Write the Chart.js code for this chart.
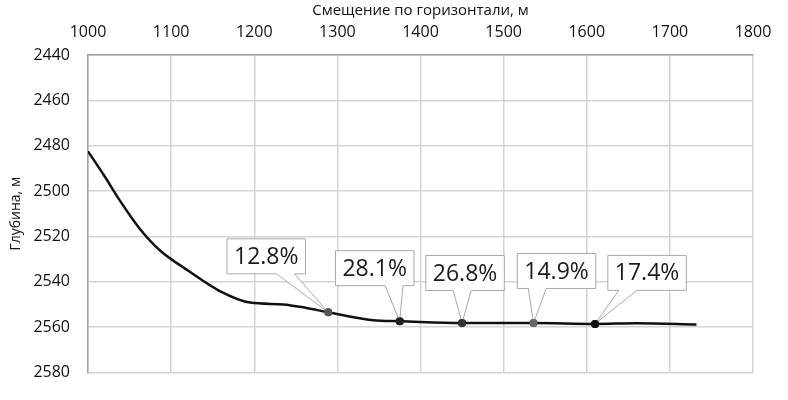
<!DOCTYPE html>
<html>
<head>
<meta charset="utf-8">
<script src="https://cdn.jsdelivr.net/npm/chart.js@4"></script>
<style>
  html, body { margin: 0; padding: 0; background: #fff; }
  #wrap { width: 788px; height: 400px; }
</style>
</head>
<body>
<div id="wrap"><canvas id="wellChart"></canvas></div>
<script>
// trajectory: horizontal offset (m) vs depth (m)
const offsetM = [1000, 1020, 1038, 1062, 1086, 1122, 1158, 1195, 1235, 1263, 1289, 1343, 1375, 1450, 1536, 1610, 1660, 1732]
const depthM = [2482.5, 2493.5, 2504, 2516.5, 2526, 2535.5, 2544, 2549.2, 2550, 2551.6, 2553.5, 2557, 2557.4, 2558.2, 2558.2, 2558.6, 2558.3, 2558.9]

// labelled points
const markerX = [1289, 1375, 1450, 1536, 1610]
const markerDepth = [2553.5, 2557.4, 2558.2, 2558.2, 2558.6]
const markerLabels = ["12.8%", "28.1%", "26.8%", "14.9%", "17.4%"]
const markerColors = ["#555", "#222", "#333", "#666", "#111"]

const xTicks = [1000, 1100, 1200, 1300, 1400, 1500, 1600, 1700, 1800]
const yTicks = [2440, 2460, 2480, 2500, 2520, 2540, 2560, 2580]

const FONT = "'Open Sans', 'DejaVu Sans', sans-serif"

// box centre offset from its point (px)
const calloutOffsets = [[-62, -56], [-25, -53], [3, -50], [23, -52], [52, -51]]

const callouts = {
    id: "callouts",
    afterDatasetsDraw(chart) {
        const ctx = chart.ctx
        const meta = chart.getDatasetMeta(1)
        ctx.save()
        ctx.font = "23px " + FONT
        meta.data.forEach((pt, i) => {
            const text = markerLabels[i]
            const w = ctx.measureText(text).width + 14
            const h = 35
            const cx = pt.x + calloutOffsets[i][0]
            const cy = pt.y + calloutOffsets[i][1]
            const left = cx - w / 2, top = cy - h / 2
            const bottom = top + h
            const baseC = Math.min(Math.max(pt.x, left + 20), left + w - 20)
            ctx.beginPath()
            ctx.moveTo(left, top)
            ctx.lineTo(left + w, top)
            ctx.lineTo(left + w, bottom)
            ctx.lineTo(baseC + 9, bottom)
            ctx.lineTo(pt.x, pt.y)
            ctx.lineTo(baseC - 9, bottom)
            ctx.lineTo(left, bottom)
            ctx.closePath()
            ctx.fillStyle = "#fff"
            ctx.fill()
            ctx.strokeStyle = "#a8a8a8"
            ctx.lineWidth = 1
            ctx.stroke()
            ctx.fillStyle = "#1a1a1a"
            ctx.textAlign = "center"
            ctx.textBaseline = "middle"
            ctx.fillText(text, cx, cy + 1)
            // redraw marker on top of the wedge tip
            ctx.beginPath()
            ctx.arc(pt.x, pt.y, 4, 0, Math.PI * 2)
            ctx.fillStyle = markerColors[i]
            ctx.fill()
        })
        ctx.restore()
    }
}

new Chart(document.getElementById("wellChart"), {
    type: "scatter",
    data: {
        datasets: [
            {
                label: "trajectory",
                data: offsetM.map((x, i) => ({x: x, y: depthM[i]})),
                showLine: true,
                borderColor: "#111",
                borderWidth: 2.5,
                pointRadius: 0,
                cubicInterpolationMode: "monotone"
            },
            {
                label: "markers",
                data: markerX.map((x, i) => ({x: x, y: markerDepth[i]})),
                showLine: false,
                pointRadius: 4,
                pointBackgroundColor: markerColors,
                pointBorderWidth: 0
            }
        ]
    },
    options: {
        responsive: true,
        maintainAspectRatio: false,
        animation: false,
        layout: { padding: { left: 0, top: 0, right: 35, bottom: 25 } },
        plugins: {
            legend: { display: false },
            tooltip: { enabled: false }
        },
        scales: {
            x: {
                type: "linear",
                position: "top",
                min: 1000,
                max: 1800,
                afterBuildTicks: (scale) => { scale.ticks = xTicks.map(v => ({value: v})) },
                afterFit: (scale) => { scale.height = 55 },
                grid: { color: "#d4d4d4", lineWidth: 1.5, drawTicks: false },
                border: { color: "#a0a0a0", width: 1.5 },
                ticks: { color: "#111", font: { family: FONT, size: 16 }, padding: 13, callback: v => String(v) },
                title: {
                    display: true,
                    text: "Смещение по горизонтали, м",
                    color: "#111",
                    font: { family: FONT, size: 15 },
                    padding: { top: 2, bottom: 0 }
                }
            },
            y: {
                type: "linear",
                reverse: true,
                min: 2440,
                max: 2580,
                afterBuildTicks: (scale) => { scale.ticks = yTicks.map(v => ({value: v})) },
                afterFit: (scale) => { scale.width = 88 },
                grid: { color: "#d4d4d4", lineWidth: 1.5, drawTicks: false },
                border: { color: "#a0a0a0", width: 1.5 },
                ticks: { color: "#111", font: { family: FONT, size: 16 }, padding: 18, callback: v => String(v) },
                title: {
                    display: true,
                    text: "Глубина, м",
                    color: "#111",
                    font: { family: FONT, size: 14 },
                    padding: { top: 8, bottom: 0 }
                }
            }
        }
    },
    plugins: [callouts]
})
</script>
</body>
</html>
